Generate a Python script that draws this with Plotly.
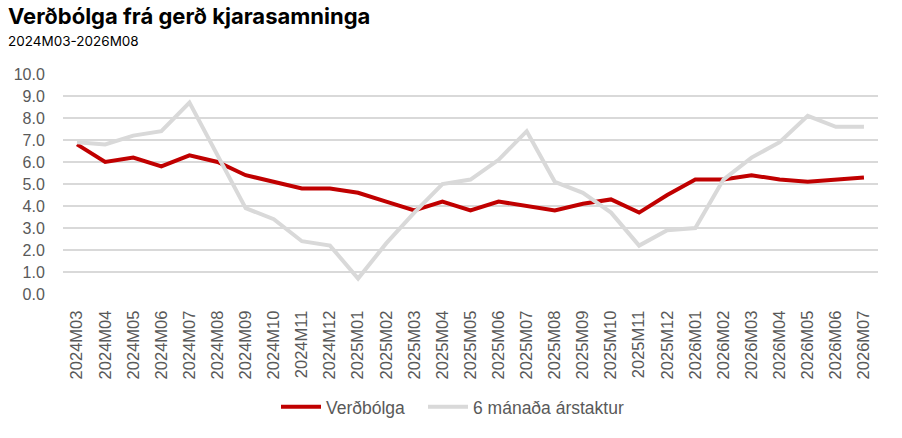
import plotly.graph_objects as go

categories = ["2024M03","2024M04","2024M05","2024M06","2024M07","2024M08","2024M09","2024M10",
              "2024M11","2024M12","2025M01","2025M02","2025M03","2025M04","2025M05","2025M06",
              "2025M07","2025M08","2025M09","2025M10","2025M11","2025M12","2026M01","2026M02",
              "2026M03","2026M04","2026M05","2026M06","2026M07"]

verdbolga = [6.8, 6.0, 6.2, 5.8, 6.3, 6.0, 5.4, 5.1, 4.8, 4.8, 4.6, 4.2, 3.8, 4.2, 3.8, 4.2,
             4.0, 3.8, 4.1, 4.3, 3.7, 4.5, 5.2, 5.2, 5.4, 5.2, 5.1, 5.2, 5.3]

arstaktur = [6.9, 6.8, 7.2, 7.4, 8.7, 6.3, 3.9, 3.4, 2.4, 2.2, 0.7, 2.3, 3.7, 5.0, 5.2, 6.1,
             7.4, 5.1, 4.6, 3.7, 2.2, 2.9, 3.0, 5.2, 6.2, 6.9, 8.1, 7.6, 7.6]

y_ticks = [0, 1, 2, 3, 4, 5, 6, 7, 8, 9, 10]
y_tick_labels = ["0.0", "1.0", "2.0", "3.0", "4.0", "5.0", "6.0", "7.0", "8.0", "9.0", "10.0"]

GRAY_TEXT = "#595959"
FONT = "Liberation Sans, Arial, sans-serif"

fig = go.Figure()
fig.add_trace(go.Scatter(x=categories, y=verdbolga, name="Verðbólga", mode="lines",
                         line=dict(color="#C00000", width=4), legend="legend"))
fig.add_trace(go.Scatter(x=categories, y=arstaktur, name="6 mánaða árstaktur", mode="lines",
                         line=dict(color="#D9D9D9", width=4), legend="legend2"))

legend_common = dict(orientation="h", xanchor="left", y=-0.513, yanchor="middle",
                     font=dict(size=17.5, color=GRAY_TEXT), itemwidth=40,
                     bgcolor="rgba(0,0,0,0)")

fig.update_layout(
    width=902, height=438,
    margin=dict(l=63, r=24, t=74, b=144),
    paper_bgcolor="white", plot_bgcolor="white",
    font=dict(family=FONT, color=GRAY_TEXT),
    showlegend=True,
    legend=dict(x=(283 - 7 - 63) / 815, **legend_common),
    legend2=dict(x=(430 - 7 - 63) / 815, **legend_common),
    xaxis=dict(type="category", range=[-0.5, 28.5], tickangle=-90,
               tickfont=dict(size=16.5, color=GRAY_TEXT), showgrid=False, zeroline=False,
               showline=False, ticks="outside", ticklen=9, tickcolor="rgba(0,0,0,0)",
               automargin=False),
    yaxis=dict(range=[0, 10], tickvals=y_ticks, ticktext=y_tick_labels,
               tickfont=dict(size=16, color=GRAY_TEXT), showgrid=True,
               gridcolor="#D9D9D9", gridwidth=1.5, zeroline=False, showline=False,
               ticks="outside", ticklen=14, tickcolor="rgba(0,0,0,0)", automargin=False),
    annotations=[
        dict(text="<b>Verðbólga frá gerð kjarasamninga</b>", xref="paper", yref="paper",
             x=-57/815, y=(294.3 - 17) / 219.8, xanchor="left", yanchor="middle",
             showarrow=False, font=dict(family="Inter, sans-serif", size=22, color="black")),
        dict(text="2024M03-2026M08", xref="paper", yref="paper",
             x=-57/815, y=(294.3 - 42) / 219.8, xanchor="left", yanchor="middle",
             showarrow=False, font=dict(family="Inter, sans-serif", size=13.5, color="black")),
    ],
)

fig.write_html("out.html", config={"displayModeBar": False},
               post_script="document.body.style.margin='0';")
